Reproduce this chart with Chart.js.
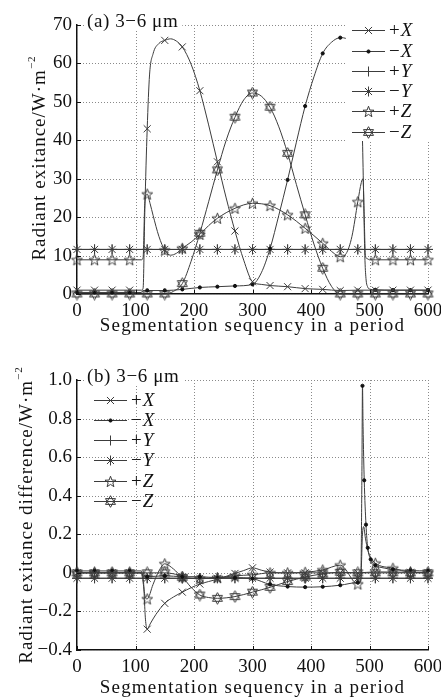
<!DOCTYPE html>
<html>
<head>
<meta charset="utf-8">
<script src="https://cdn.jsdelivr.net/npm/chart.js@4.4.0/dist/chart.umd.min.js"></script>
<style>
html, body { margin: 0; padding: 0; background: #fff; }
#boxA { position: absolute; left: 0; top: 0; }
#boxB { position: absolute; left: 0; top: 340px; }
</style>
</head>
<body>
<div id="boxA"><canvas id="chartA" width="441" height="340"></canvas></div>
<div id="boxB"><canvas id="chartB" width="441" height="358"></canvas></div>
<script>
// series names, in legend order
var seriesNames = ["+X", "\u2212X", "+Y", "\u2212Y", "+Z", "\u2212Z"];
var xTicks = [0, 100, 200, 300, 400, 500, 600];
var yTicksA = [0, 10, 20, 30, 40, 50, 60, 70];
var yTicksB = [-0.4, -0.2, 0, 0.2, 0.4, 0.6, 0.8, 1.0];
var xGrid = [0, 30, 60, 90, 120, 150, 180, 210, 240, 270, 300, 330, 360, 390, 420, 450, 480, 510, 540, 570, 600];

// (a) radiant exitance
var aPX_x = [0, 30, 60, 90, 110, 113, 116, 120, 124, 130, 140, 150, 160, 170, 180, 195, 210, 225, 240, 255, 270, 285, 300, 315, 330, 360, 390, 420, 450, 480, 510, 540, 570, 600];
var aPX_y = [1.0, 1.0, 1.0, 1.0, 1.0, 1.5, 22, 43, 57, 62.5, 65.2, 66, 66.4, 65.8, 64.3, 59.8, 52.9, 44, 34.4, 25, 16.4, 8.8, 3.2, 2.5, 2.2, 1.9, 1.4, 1.2, 0.9, 1.0, 1.0, 1.0, 1.0, 1.0];
var aMX_x = [0, 30, 60, 90, 110, 113, 120, 150, 180, 210, 240, 270, 300, 315, 330, 345, 360, 375, 390, 405, 420, 435, 450, 462, 472, 480, 485, 488, 490, 492, 494, 497, 500, 510, 540, 570, 600];
var aMX_y = [0.4, 0.4, 0.4, 0.4, 0.4, 0.9, 0.9, 0.9, 1.2, 1.7, 1.9, 2.1, 2.5, 5.5, 11.8, 20.5, 29.7, 39.5, 48.9, 56.5, 62.6, 65.5, 66.7, 66.3, 64, 60, 52, 40, 25, 10, 4, 1.8, 1.3, 1.1, 1.0, 1.0, 1.0];
var aPY_y = [11.6, 11.6, 11.6, 11.6, 11.6, 11.6, 11.6, 11.6, 11.6, 11.6, 11.6, 11.6, 11.6, 11.6, 11.6, 11.6, 11.6, 11.6, 11.6, 11.6, 11.6];
var aMY_y = [11.6, 11.6, 11.6, 11.6, 11.6, 11.6, 11.6, 11.6, 11.6, 11.6, 11.6, 11.6, 11.6, 11.6, 11.6, 11.6, 11.6, 11.6, 11.6, 11.6, 11.6];
var aPZ_x = [0, 30, 60, 90, 110, 113, 116, 120, 125, 130, 140, 150, 160, 170, 180, 195, 210, 225, 240, 270, 300, 330, 360, 390, 420, 440, 450, 460, 470, 480, 486, 489, 491, 493, 496, 500, 510, 540, 570, 600];
var aPZ_y = [8.9, 8.9, 8.9, 8.9, 8.9, 9.5, 24, 26, 23.5, 20.5, 15, 11.4, 10.1, 10.6, 11.9, 13.5, 15.5, 17.8, 19.7, 22.3, 23.6, 23, 20.6, 17.1, 13.2, 10.5, 9.7, 10.5, 15, 24, 29, 30, 20, 10, 9.2, 8.9, 8.9, 8.9, 8.9, 8.9];
var aMZ_x = [0, 30, 60, 90, 120, 150, 165, 180, 195, 210, 225, 240, 255, 270, 285, 300, 315, 330, 345, 360, 375, 390, 405, 420, 435, 450, 480, 510, 540, 570, 600];
var aMZ_y = [0, 0, 0, 0, 0, 0, 0.7, 2.7, 8.5, 15.8, 24, 32.3, 40, 46, 50.5, 52.3, 51.5, 48.6, 43.5, 36.6, 28.5, 20.6, 13, 6.7, 2, 0, 0, 0, 0, 0, 0];

// (b) radiant exitance difference
var bPX_x = [0, 30, 60, 90, 110, 113, 117, 120, 125, 135, 150, 165, 180, 195, 210, 225, 240, 255, 270, 285, 300, 315, 330, 360, 390, 420, 450, 480, 510, 540, 570, 600];
var bPX_y = [0, 0, 0, 0, 0, -0.02, -0.24, -0.292, -0.265, -0.215, -0.158, -0.125, -0.1, -0.077, -0.058, -0.045, -0.033, -0.018, -0.003, 0.012, 0.026, 0.014, 0.004, 0, 0, 0, 0, 0, 0.005, 0.004, 0.003, 0.002];
var bMX_x = [0, 30, 60, 90, 110, 113, 120, 150, 180, 210, 240, 270, 300, 330, 360, 390, 420, 450, 480, 485, 487, 488, 489, 491, 494, 497, 502, 510, 525, 540, 570, 600];
var bMX_y = [0.01, 0.01, 0.01, 0.01, 0.01, -0.02, -0.02, -0.015, -0.02, -0.02, -0.025, -0.025, -0.03, -0.06, -0.071, -0.074, -0.072, -0.064, -0.05, -0.04, 0.5, 0.97, 0.76, 0.48, 0.25, 0.13, 0.07, 0.04, 0.025, 0.018, 0.012, 0.01];
var bMXDots = [488, 491, 494, 497, 502];
var bPY_y = [-0.028, -0.028, -0.028, -0.028, -0.028, -0.028, -0.028, -0.028, -0.028, -0.028, -0.028, -0.028, -0.028, -0.028, -0.028, -0.028, -0.028, -0.028, -0.028, -0.028, -0.028];
var bMY_y = [-0.028, -0.028, -0.028, -0.028, -0.028, -0.028, -0.028, -0.028, -0.028, -0.028, -0.028, -0.028, -0.028, -0.028, -0.028, -0.028, -0.028, -0.028, -0.028, -0.028, -0.028];
var bPZ_x = [0, 30, 60, 90, 110, 113, 117, 120, 130, 140, 150, 165, 180, 210, 240, 270, 300, 330, 360, 390, 420, 450, 480, 485, 488, 490, 493, 497, 502, 510, 540, 570, 600];
var bPZ_y = [0, 0, 0, 0, 0, -0.05, -0.13, -0.135, -0.06, 0.01, 0.047, 0.02, -0.02, -0.03, -0.025, -0.015, -0.01, 0, 0, 0.003, 0.015, 0.04, -0.058, -0.04, 0.2, 0.24, 0.18, 0.12, 0.08, 0.05, 0.024, 0.003, 0];
var bMZ_x = [0, 30, 60, 90, 120, 150, 165, 180, 195, 210, 225, 240, 270, 300, 330, 360, 390, 420, 450, 480, 510, 540, 570, 600];
var bMZ_y = [0, 0, 0, 0, 0, 0, -0.005, -0.023, -0.075, -0.115, -0.128, -0.132, -0.123, -0.1, -0.075, -0.045, -0.022, -0.005, 0.003, 0, 0, 0, 0, 0];

var INK = "#3c3c3c";
var SERIF = '"Liberation Serif", "Times New Roman", serif';

function pts(xs, ys) {
    return xs.map(function (x, i) { return { x: x, y: ys[i] }; });
}

// five pointed star marker
function starImg() {
    var c = document.createElement("canvas");
    c.width = 13; c.height = 13;
    var g = c.getContext("2d");
    g.strokeStyle = INK;
    g.lineWidth = 1;
    g.beginPath();
    for (var k = 0; k < 10; k++) {
        var r = k % 2 ? 2.4 : 5.8;
        var a = -Math.PI / 2 + k * Math.PI / 5;
        var px = 6.5 + r * Math.cos(a), py = 7 + r * Math.sin(a);
        if (k) g.lineTo(px, py); else g.moveTo(px, py);
    }
    g.closePath();
    g.stroke();
    return c;
}

// six pointed star marker (two triangles)
function hexImg() {
    var c = document.createElement("canvas");
    c.width = 13; c.height = 13;
    var g = c.getContext("2d");
    g.strokeStyle = INK;
    g.lineWidth = 1;
    [-Math.PI / 2, Math.PI / 2].forEach(function (off) {
        g.beginPath();
        for (var k = 0; k < 3; k++) {
            var a = off + k * 2 * Math.PI / 3;
            var px = 6.5 + 5.8 * Math.cos(a), py = 6.5 + 5.8 * Math.sin(a);
            if (k) g.lineTo(px, py); else g.moveTo(px, py);
        }
        g.closePath();
        g.stroke();
    });
    return c;
}

var marks = [
    { style: "crossRot", r: 5 },
    { style: "circle", r: 1.6, fill: true },
    { style: "cross", r: 5 },
    { style: "star", r: 5 },
    { style: starImg(), r: 5 },
    { style: hexImg(), r: 5 }
];

function makeSet(k, xs, ys, extraDots) {
    var m = marks[k];
    return {
        label: seriesNames[k],
        data: pts(xs, ys),
        borderColor: INK,
        borderWidth: 1,
        pointStyle: m.style,
        pointRadius: function (c) {
            if (!c.raw) return 0;
            var x = c.raw.x;
            return (x % 30 === 0 || (extraDots && extraDots.indexOf(x) >= 0)) ? m.r : 0;
        },
        pointBorderColor: m.fill ? "#111" : INK,
        pointBackgroundColor: m.fill ? "#111" : "rgba(0,0,0,0)",
        pointBorderWidth: 1,
        cubicInterpolationMode: "monotone",
        clip: 10
    };
}

function makeScales(yt, fmt, xH) {
    var font = { family: SERIF, size: 19 };
    // grid is kept "on" but transparent so the axis border still draws; the dots come from a plugin
    var hiddenGrid = { display: true, color: "rgba(0,0,0,0)", drawTicks: false };
    return {
        x: {
            type: "linear", min: xTicks[0], max: xTicks[xTicks.length - 1],
            afterBuildTicks: function (s) { s.ticks = xTicks.map(function (v) { return { value: v }; }); },
            ticks: { color: "#111", font: font, padding: 6, maxRotation: 0, autoSkip: false },
            grid: hiddenGrid,
            border: { display: true, color: "#111", width: 1.5 },
            afterFit: function (s) { s.height = xH; s.paddingLeft = 0; s.paddingRight = 0; }
        },
        y: {
            type: "linear", min: yt[0], max: yt[yt.length - 1],
            afterBuildTicks: function (s) { s.ticks = yt.map(function (v) { return { value: v }; }); },
            ticks: { color: "#111", font: font, padding: 5, autoSkip: false, callback: fmt },
            grid: hiddenGrid,
            border: { display: true, color: "#111", width: 1.5 },
            afterFit: function (s) { s.width = 77; s.paddingTop = 0; s.paddingBottom = 0; }
        }
    };
}

function spaced(ctx, px) {
    if ("letterSpacing" in ctx) ctx.letterSpacing = px + "px";
}

// dotted grid under the curves
function dottedGrid(yt) {
    return {
        id: "dottedGrid",
        beforeDatasetsDraw: function (chart) {
            var ctx = chart.ctx, a = chart.chartArea;
            var sx = chart.scales.x, sy = chart.scales.y;
            ctx.save();
            ctx.strokeStyle = "#8a8a8a";
            ctx.lineWidth = 1;
            ctx.setLineDash([1, 2]);
            xTicks.forEach(function (v) {
                var px = Math.round(sx.getPixelForValue(v)) + 0.5;
                ctx.beginPath(); ctx.moveTo(px, a.top); ctx.lineTo(px, a.bottom); ctx.stroke();
            });
            yt.forEach(function (v) {
                var py = Math.round(sy.getPixelForValue(v)) + 0.5;
                ctx.beginPath(); ctx.moveTo(a.left, py); ctx.lineTo(a.right, py); ctx.stroke();
            });
            ctx.restore();
        }
    };
}

// axis titles, panel label, inner ticks and the legend box
function decor(o) {
    return {
        id: "decor",
        afterDraw: function (chart) {
            var ctx = chart.ctx, a = chart.chartArea;
            var sx = chart.scales.x, sy = chart.scales.y;
            ctx.save();

            ctx.strokeStyle = "#111";
            ctx.lineWidth = 1;
            xTicks.forEach(function (v) {
                var px = Math.round(sx.getPixelForValue(v)) + 0.5;
                ctx.beginPath(); ctx.moveTo(px, a.bottom); ctx.lineTo(px, a.bottom - 4); ctx.stroke();
            });
            o.yt.forEach(function (v) {
                var py = Math.round(sy.getPixelForValue(v)) + 0.5;
                ctx.beginPath(); ctx.moveTo(a.left, py); ctx.lineTo(a.left + 4, py); ctx.stroke();
            });

            // panel label
            ctx.font = "19px " + SERIF;
            spaced(ctx, 0.6);
            ctx.textBaseline = "alphabetic";
            ctx.textAlign = "left";
            var lw = ctx.measureText(o.panel).width;
            ctx.fillStyle = "#fff";
            ctx.fillRect(a.left + 8, a.top - 11, lw + 6, 17);
            ctx.fillStyle = "#111";
            ctx.fillText(o.panel, a.left + 10, a.top + 2);
            spaced(ctx, 0);

            // legend
            var lg = o.legend;
            ctx.fillStyle = "#fff";
            ctx.fillRect(lg.box[0], lg.box[1], lg.box[2], lg.box[3]);
            chart.data.datasets.forEach(function (ds, i) {
                var y = lg.rows[i];
                ctx.strokeStyle = INK;
                ctx.lineWidth = 1;
                ctx.beginPath(); ctx.moveTo(lg.x0, y + 0.5); ctx.lineTo(lg.x0 + 33, y + 0.5); ctx.stroke();
                var m = marks[i];
                ctx.strokeStyle = m.fill ? "#111" : INK;
                ctx.fillStyle = m.fill ? "#111" : "rgba(0,0,0,0)";
                Chart.helpers.drawPoint(ctx, { pointStyle: m.style, radius: m.r, borderWidth: 1, rotation: 0 }, lg.x0 + 16.5, y + 0.5);
                var sign = ds.label.charAt(0), axis = ds.label.slice(1);
                ctx.fillStyle = "#111";
                ctx.textBaseline = "middle";
                ctx.font = "19px " + SERIF;
                ctx.fillText(sign, lg.x0 + 37, y + 1);
                var sw = ctx.measureText(sign).width;
                ctx.font = "italic 19px " + SERIF;
                ctx.fillText(axis, lg.x0 + 38 + sw, y + 1);
            });

            // x title
            ctx.fillStyle = "#111";
            ctx.font = "19px " + SERIF;
            ctx.textAlign = "center";
            ctx.textBaseline = "alphabetic";
            spaced(ctx, 1.2);
            ctx.fillText("Segmentation sequency in a period", (a.left + a.right) / 2, o.xTitleY);

            // y title with superscript
            ctx.translate(o.yTitleX, o.yTitleMid);
            ctx.rotate(-Math.PI / 2);
            ctx.textAlign = "left";
            spaced(ctx, 1);
            ctx.font = "19px " + SERIF;
            var w1 = ctx.measureText(o.yTitle).width;
            ctx.font = "11px " + SERIF;
            var w2 = ctx.measureText("\u22122").width;
            var x0 = -(w1 + w2) / 2;
            ctx.font = "19px " + SERIF;
            ctx.fillText(o.yTitle, x0, 0);
            ctx.font = "11px " + SERIF;
            ctx.fillText("\u22122", x0 + w1, -10);

            ctx.restore();
        }
    };
}

function baseOptions(yt, fmt, padTop, xH) {
    return {
        responsive: false,
        animation: false,
        events: [],
        layout: { padding: { left: 0, right: 13, top: padTop, bottom: 0 } },
        plugins: { legend: { display: false }, tooltip: { enabled: false } },
        scales: makeScales(yt, fmt, xH)
    };
}

new Chart(document.getElementById("chartA"), {
    type: "line",
    data: {
        datasets: [
            makeSet(0, aPX_x, aPX_y),
            makeSet(1, aMX_x, aMX_y),
            makeSet(2, xGrid, aPY_y),
            makeSet(3, xGrid, aMY_y),
            makeSet(4, aPZ_x, aPZ_y),
            makeSet(5, aMZ_x, aMZ_y)
        ]
    },
    options: baseOptions(yTicksA, function (v) { return String(v); }, 25, 46),
    plugins: [dottedGrid(yTicksA), decor({
        yt: yTicksA,
        panel: "(a) 3\u22126 \u03bcm",
        legend: { box: [346, 20, 92, 121], x0: 352, rows: [30, 51, 71, 91, 111, 132] },
        xTitleY: 331,
        yTitle: "Radiant exitance/W\u00b7m",
        yTitleX: 45,
        yTitleMid: 158
    })]
});

new Chart(document.getElementById("chartB"), {
    type: "line",
    data: {
        datasets: [
            makeSet(0, bPX_x, bPX_y),
            makeSet(1, bMX_x, bMX_y, bMXDots),
            makeSet(2, xGrid, bPY_y),
            makeSet(3, xGrid, bMY_y),
            makeSet(4, bPZ_x, bPZ_y),
            makeSet(5, bMZ_x, bMZ_y)
        ]
    },
    options: baseOptions(yTicksB, function (v) {
        if (Math.abs(v) < 1e-9) return "0";
        return v.toFixed(1).replace("-", "\u2212");
    }, 40, 48),
    plugins: [dottedGrid(yTicksB), decor({
        yt: yTicksB,
        panel: "(b) 3\u22126 \u03bcm",
        legend: { box: [78, 388, 82, 124], x0: 94, rows: [400, 420, 440, 460, 481, 501].map(function (v) { return v - 340; }) },
        xTitleY: 353,
        yTitle: "Radiant exitance difference/W\u00b7m",
        yTitleX: 32,
        yTitleMid: 175
    })]
});
</script>
</body>
</html>
